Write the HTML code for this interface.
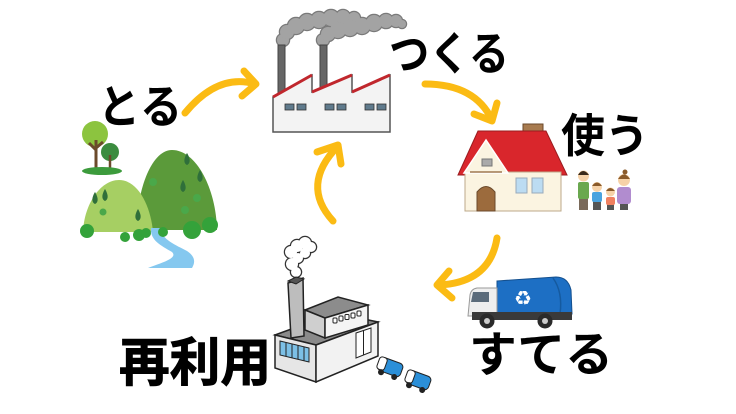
<!DOCTYPE html>
<html><head><meta charset="utf-8"><style>
html,body{margin:0;padding:0;background:#fff;}
body{width:736px;height:414px;overflow:hidden;}
svg{display:block;}
.t{font-family:"Liberation Sans","Noto Sans CJK JP",sans-serif;font-weight:bold;fill:#000;}
</style></head><body>
<svg width="736" height="414" viewBox="0 0 736 414" xmlns="http://www.w3.org/2000/svg">
<defs>
<g id="s1">
<circle cx="283" cy="40" r="6"/><circle cx="287" cy="32" r="7"/><circle cx="296" cy="26" r="8"/><circle cx="307" cy="22" r="8"/><circle cx="319" cy="20" r="8"/><circle cx="331" cy="18" r="8"/><circle cx="343" cy="17" r="7"/><circle cx="354" cy="18" r="6"/>
<circle cx="323" cy="40" r="6"/><circle cx="328" cy="34" r="7"/><circle cx="338" cy="30" r="8"/><circle cx="350" cy="28" r="8"/><circle cx="362" cy="26" r="8"/><circle cx="374" cy="23" r="8"/><circle cx="386" cy="21" r="7"/><circle cx="396" cy="21" r="6"/><circle cx="402" cy="24" r="4"/>
</g>
<g id="s2">
<circle cx="296" cy="272" r="5"/><circle cx="292" cy="264" r="6"/><circle cx="298" cy="258" r="5"/><circle cx="291" cy="252" r="6"/><circle cx="297" cy="246" r="6"/><circle cx="305" cy="243" r="6"/><circle cx="311" cy="247" r="5"/><circle cx="305" cy="253" r="5"/>
</g>
<path id="cone" d="M0,-7 C3,-2 4,3 0,5 C-4,3 -3,-2 0,-7Z"/>
</defs>

<!-- arrows -->
<g fill="none" stroke="#fbbb14" stroke-width="7" stroke-linecap="round" stroke-linejoin="round">
<path d="M185,113 Q218,73 255,84"/><path d="M244,71 L256,84 L242,96"/>
<path d="M425,84 Q475,84 492,120"/><path d="M474,114 L492,121 L497,103"/>
<path d="M497,238 Q490,282 440,285"/><path d="M449,271 L437,285 L452,298"/>
<path d="M333,221 Q300,185 338,146"/><path d="M317,152 L338,145 L341,164"/>
</g>

<!-- top factory -->
<use href="#s1" fill="#a3a3a3" stroke="#7a7a7a" stroke-width="2.5"/>
<use href="#s1" fill="#a3a3a3"/>
<rect x="278" y="45" width="7" height="52" fill="#666" stroke="#444"/>
<rect x="320" y="45" width="7" height="45" fill="#666" stroke="#444"/>
<polygon points="273,97 312,75 312,92 352,75 352,92 390,75 390,132 273,132" fill="#f3f3f3" stroke="#555" stroke-width="1.5"/>
<path d="M273,97 L312,75 M312,92 L352,75 M352,92 L390,75" stroke="#c0272d" stroke-width="3" fill="none"/>
<g fill="#5f7a8c" stroke="#333" stroke-width="0.8">
<rect x="285" y="104" width="9" height="6"/><rect x="297" y="104" width="9" height="6"/>
<rect x="325" y="104" width="9" height="6"/><rect x="337" y="104" width="9" height="6"/>
<rect x="365" y="104" width="9" height="6"/><rect x="377" y="104" width="9" height="6"/>
</g>

<!-- mountains -->
<circle cx="95" cy="134" r="13" fill="#8cc43f"/>
<path d="M96,140 L96,170 M96,150 L89,143 M96,148 L103,142" stroke="#6b4a2b" stroke-width="3" fill="none"/>
<circle cx="110" cy="152" r="9" fill="#3b8c3f"/>
<path d="M110,155 L110,170" stroke="#6b4a2b" stroke-width="2.5"/>
<ellipse cx="102" cy="171" rx="20" ry="4" fill="#3c9b3c"/>
<path d="M137,230 C136,195 150,150 172,150 C196,150 216,188 217,230 Z" fill="#5b9a3a"/>
<path d="M83,232 C84,205 100,180 119,180 C139,180 151,208 153,232 Z" fill="#a6cf63"/>
<g fill="#2f6f3a">
<use href="#cone" transform="translate(187,160)"/><use href="#cone" transform="translate(200,177)"/><use href="#cone" transform="translate(183,187)"/>
<use href="#cone" transform="translate(95,199)"/><use href="#cone" transform="translate(105,196)"/><use href="#cone" transform="translate(138,216)"/>
</g>
<g fill="#4aa84a"><circle cx="153" cy="182" r="4"/><circle cx="197" cy="198" r="4"/><circle cx="185" cy="210" r="4"/><circle cx="103" cy="212" r="3.5"/></g>
<path d="M151,228 L160,228 C162,240 176,245 187,251 C196,257 195,263 192,268 L148,268 C164,262 178,258 172,252 C160,245 150,240 151,228 Z" fill="#85c8ef"/>
<g fill="#34a23a">
<circle cx="87" cy="231" r="7"/><circle cx="125" cy="237" r="5"/><circle cx="139" cy="235" r="6"/><circle cx="146" cy="233" r="5"/><circle cx="163" cy="232" r="5"/><circle cx="192" cy="230" r="9"/><circle cx="210" cy="225" r="8"/>
</g>

<!-- house -->
<rect x="523" y="124" width="20" height="13" fill="#a87b4f" stroke="#6b4a2b"/>
<polygon points="478,131 546,131 567,175 458,175" fill="#d9262c" stroke="#9a1c1f"/>
<rect x="465" y="172" width="96" height="39" fill="#fbf4e1" stroke="#bca98a"/>
<polygon points="486,140 464,173 508,173" fill="#fbf4e1" stroke="#fff" stroke-width="1.5"/>
<rect x="482" y="159" width="10" height="7" fill="#aaa" stroke="#777"/>
<path d="M470,172 L502,172" stroke="#a07850" stroke-width="1.5"/>
<path d="M477,211 L477,192 Q486,181 495,192 L495,211Z" fill="#9c6b3d" stroke="#6b4a2b"/>
<rect x="516" y="178" width="11" height="15" fill="#bcdcf2" stroke="#9ab"/>
<rect x="532" y="178" width="11" height="15" fill="#bcdcf2" stroke="#9ab"/>

<!-- family -->
<rect x="579" y="198" width="9" height="12" fill="#7a6a5a"/>
<rect x="578" y="182" width="11" height="17" rx="2" fill="#6aa84f"/>
<circle cx="583.5" cy="176" r="5.5" fill="#f6d2a8"/><path d="M578,175 Q583,167 589,175Z" fill="#3a2a1a"/>
<rect x="593" y="201" width="8" height="9" fill="#555"/>
<rect x="592" y="192" width="10" height="10" rx="2" fill="#4aa3df"/>
<circle cx="597" cy="187" r="5" fill="#f6d2a8"/><path d="M592,186 Q597,179 602,186Z" fill="#8a5a2a"/>
<rect x="607" y="204" width="7" height="6" fill="#555"/>
<rect x="606" y="197" width="9" height="8" rx="2" fill="#f08060"/>
<circle cx="610.5" cy="192" r="4.5" fill="#f6d2a8"/><path d="M606,191 Q610,185 615,191Z" fill="#8a5a2a"/>
<rect x="620" y="203" width="8" height="7" fill="#555"/>
<rect x="617" y="187" width="14" height="17" rx="3" fill="#b18ccf"/>
<circle cx="624" cy="180" r="6" fill="#f6d2a8"/><path d="M618,179 Q624,170 630,179Z" fill="#8a5a2a"/><circle cx="625" cy="172" r="2.5" fill="#8a5a2a"/>

<!-- garbage truck -->
<path d="M497,281 L556,277 Q568,277 571,290 L572,314 L497,314 Z" fill="#1d6fc4" stroke="#14508f"/>
<path d="M553,278 Q563,292 560,314" stroke="#155a9f" stroke-width="1.5" fill="none"/>
<path d="M470,295 Q471,289 477,288 L497,288 L497,316 L468,316 Z" fill="#eeeeee" stroke="#999"/>
<path d="M473,292 L489,292 L489,302 L471,302 Z" fill="#5b6b7a"/>
<rect x="472" y="312" width="100" height="8" fill="#3a3a3a"/>
<circle cx="487" cy="321" r="7.5" fill="#2a2a2a"/><circle cx="487" cy="321" r="3" fill="#ccc"/>
<circle cx="545" cy="321" r="7.5" fill="#2a2a2a"/><circle cx="545" cy="321" r="3" fill="#ccc"/>
<text x="514" y="305" font-family="DejaVu Sans, sans-serif" font-size="20" fill="#fff">♻</text>

<!-- incinerator -->
<use href="#s2" fill="#fff" stroke="#333" stroke-width="2.5"/>
<use href="#s2" fill="#fff"/>
<polygon points="275,335 335,313 378,322 316,345" fill="#8a8a8a" stroke="#222" stroke-width="1.5"/>
<polygon points="275,335 316,345 316,382 275,368" fill="#e6e6e6" stroke="#222" stroke-width="1.5"/>
<polygon points="316,345 378,322 378,356 316,382" fill="#f2f2f2" stroke="#222" stroke-width="1.5"/>
<polygon points="280,341 309,348 309,362 280,355" fill="#7cc0e6" stroke="#222"/>
<path d="M286,342.5 L286,356.5 M292,344 L292,358 M298,345.5 L298,359.5 M304,347 L304,361" stroke="#222"/>
<polygon points="356,333 371,328 371,352 356,358" fill="#fff" stroke="#222"/>
<path d="M363.5,330.5 L363.5,355" stroke="#222"/>
<polygon points="305,310 338,297 368,305 325,318" fill="#8c8c8c" stroke="#222" stroke-width="1.5"/>
<polygon points="305,310 325,318 325,338 305,330" fill="#cfcfcf" stroke="#222" stroke-width="1.5"/>
<polygon points="325,318 368,305 368,325 325,338" fill="#f4f4f4" stroke="#222" stroke-width="1.5"/>
<g fill="#fff" stroke="#222">
<rect x="333" y="318" width="4" height="5" rx="1"/><rect x="339" y="316" width="4" height="5" rx="1"/><rect x="345" y="314.5" width="4" height="5" rx="1"/><rect x="351" y="313" width="4" height="5" rx="1"/><rect x="357" y="311" width="4" height="5" rx="1"/>
</g>
<polygon points="288,283 303,278 304,336 291,338" fill="#bdbdbd" stroke="#222" stroke-width="1.5"/>
<polygon points="288,281 296,277 304,279 296,284" fill="#555" stroke="#222"/>
<g transform="translate(390,368) rotate(20)">
<rect x="-12" y="-8" width="24" height="14" rx="4" fill="#2b8fd8" stroke="#222"/>
<rect x="-13" y="-8" width="8" height="13" rx="3" fill="#fff" stroke="#222"/>
<circle cx="-7" cy="7" r="3" fill="#222"/><circle cx="7" cy="7" r="3" fill="#222"/>
</g>
<g transform="translate(418,381) rotate(20)">
<rect x="-12" y="-8" width="24" height="14" rx="4" fill="#2b8fd8" stroke="#222"/>
<rect x="-13" y="-8" width="8" height="13" rx="3" fill="#fff" stroke="#222"/>
<circle cx="-7" cy="7" r="3" fill="#222"/><circle cx="7" cy="7" r="3" fill="#222"/>
</g>

<!-- labels -->
<text class="t" x="98" y="123" font-size="46" textLength="84" lengthAdjust="spacingAndGlyphs">とる</text>
<text class="t" x="389" y="70" font-size="46" textLength="120" lengthAdjust="spacingAndGlyphs">つくる</text>
<text class="t" x="561" y="152" font-size="46" textLength="88" lengthAdjust="spacingAndGlyphs">使う</text>
<text class="t" x="469" y="371" font-size="48" textLength="144" lengthAdjust="spacingAndGlyphs">すてる</text>
<text class="t" x="119" y="381" font-size="52" stroke="#000" stroke-width="1" textLength="152" lengthAdjust="spacingAndGlyphs">再利用</text>
</svg>
</body></html>
